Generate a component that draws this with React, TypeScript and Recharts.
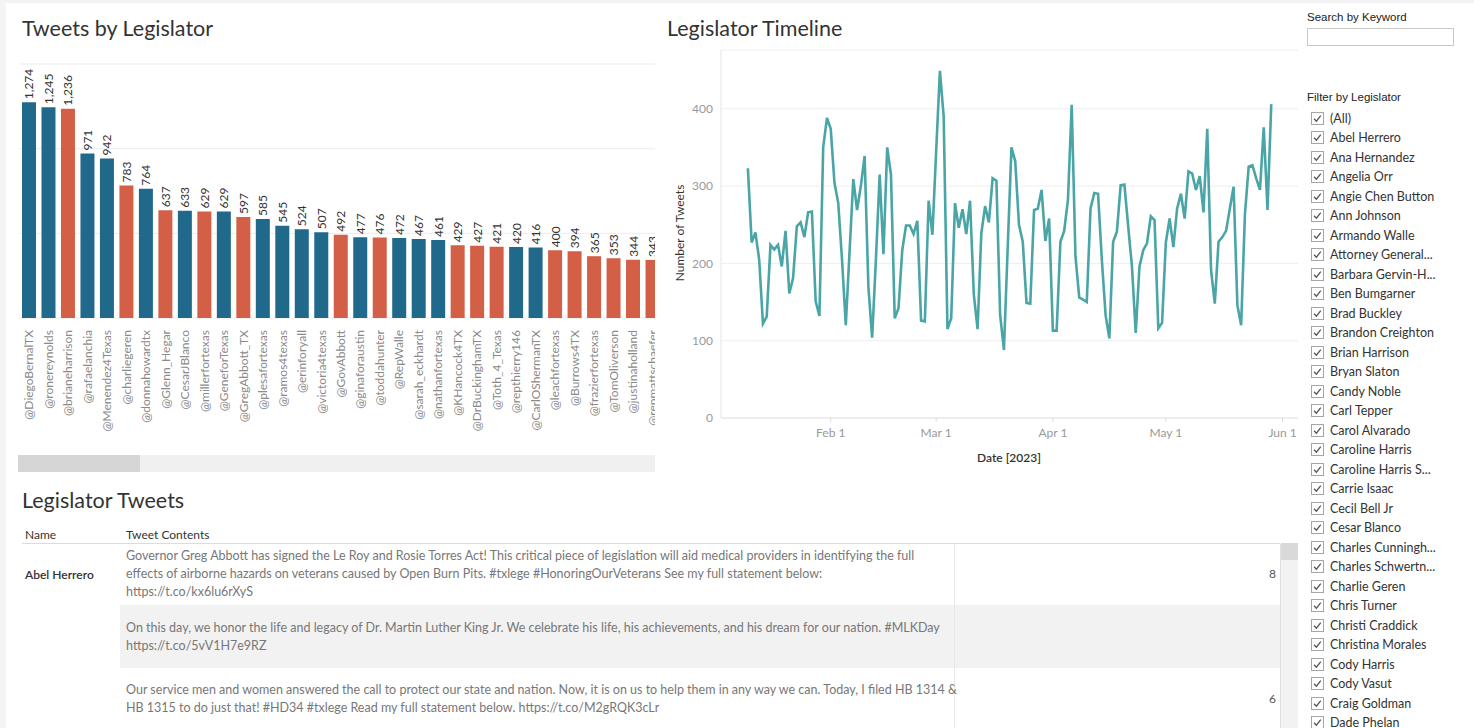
import React from "react"
import { BarChart, Bar, Cell, XAxis, YAxis, CartesianGrid, LabelList, LineChart, Line } from "recharts"

const handles = [
  "@DiegoBernalTX", "@ronereynolds", "@brianeharrison", "@rafaelanchia", "@Menendez4Texas", "@charliegeren",
  "@donnahowardtx", "@Glenn_Hegar", "@CesarJBlanco", "@millerfortexas", "@GeneforTexas", "@GregAbbott_TX",
  "@plesafortexas", "@ramos4texas", "@erinforyall", "@victoria4texas", "@GovAbbott", "@ginaforaustin",
  "@toddahunter", "@RepWalle", "@sarah_eckhardt", "@nathanfortexas", "@KHancock4TX", "@DrBuckinghamTX",
  "@Toth_4_Texas", "@repthierry146", "@CarlOShermanTX", "@leachfortexas", "@Burrows4TX", "@frazierfortexas",
  "@TomOliverson", "@justinaholland", "@repmattschaefer",
]
const tweetCounts = [
  1274, 1245, 1236, 971, 942, 783, 764, 637, 633, 629, 629, 597, 585, 545, 524, 507, 492, 477,
  476, 472, 467, 461, 429, 427, 421, 420, 416, 400, 394, 365, 353, 344, 343,
]
const parties = [
  "D", "D", "R", "D", "D", "R", "D", "R", "D", "R", "D", "R", "D", "D", "D", "D", "R", "D",
  "R", "D", "D", "D", "R", "R", "R", "D", "D", "R", "R", "R", "R", "R", "R",
]

// daily tweet totals, 2023-01-10 .. 2023-05-29
const firstDay = 9 // days after Jan 1
const dailyTweets = [
  323, 227, 240, 205, 122, 131, 224, 218, 224, 196, 242, 161, 181, 248, 253, 234, 266, 267, 151, 132,
  350, 388, 374, 304, 278, 205, 120, 215, 309, 269, 300, 339, 170, 104, 205, 315, 212, 350, 315, 129,
  142, 217, 249, 249, 238, 255, 126, 125, 281, 237, 345, 449, 390, 115, 129, 278, 246, 270, 238, 281,
  160, 115, 239, 274, 253, 310, 307, 133, 88, 220, 350, 332, 250, 228, 149, 148, 269, 271, 295, 229,
  258, 113, 113, 228, 242, 282, 405, 209, 156, 153, 150, 271, 291, 290, 205, 133, 103, 228, 241, 301,
  302, 248, 196, 110, 196, 217, 226, 261, 256, 116, 123, 227, 258, 221, 271, 290, 258, 319, 316, 295,
  313, 266, 374, 192, 148, 228, 234, 242, 271, 299, 146, 120, 263, 325, 327, 310, 295, 376, 269, 406,
]
const dateTickDays = [31, 59, 90, 120, 151]
const dateTickLabels = ["Feb 1", "Mar 1", "Apr 1", "May 1", "Jun 1"]

const legislators = [
  "(All)", "Abel Herrero", "Ana Hernandez", "Angelia Orr", "Angie Chen Button", "Ann Johnson", "Armando Walle",
  "Attorney General...", "Barbara Gervin-H...", "Ben Bumgarner", "Brad Buckley", "Brandon Creighton",
  "Brian Harrison", "Bryan Slaton", "Candy Noble", "Carl Tepper", "Carol Alvarado", "Caroline Harris",
  "Caroline Harris S...", "Carrie Isaac", "Cecil Bell Jr", "Cesar Blanco", "Charles Cunningh...",
  "Charles Schwertn...", "Charlie Geren", "Chris Turner", "Christi Craddick", "Christina Morales",
  "Cody Harris", "Cody Vasut", "Craig Goldman", "Dade Phelan",
]

const tweetRows = [
  [
    "Governor Greg Abbott has signed the Le Roy and Rosie Torres Act! This critical piece of legislation will aid medical providers in identifying the full",
    "effects of airborne hazards on veterans caused by Open Burn Pits. #txlege #HonoringOurVeterans See my full statement below:",
    "https://t.co/kx6lu6rXyS",
  ],
  [
    "On this day, we honor the life and legacy of Dr. Martin Luther King Jr. We celebrate his life, his achievements, and his dream for our nation. #MLKDay",
    "https://t.co/5vV1H7e9RZ",
  ],
  [
    "Our service men and women answered the call to protect our state and nation. Now, it is on us to help them in any way we can. Today, I filed HB 1314 &",
    "HB 1315 to do just that! #HD34 #txlege Read my full statement below. https://t.co/M2gRQK3cLr",
  ],
]
const rowCounts = ["8", "", "6"]

const BLUE = "#21698b"
const RED = "#d35f47"
const TEAL = "#4aa5a6"
const FONT = "Lato, 'Open Sans', sans-serif"

const barData = handles.map((h, i) => ({ handle: h, count: tweetCounts[i], party: parties[i] }))
const lineData = dailyTweets.map((v, i) => ({ day: firstDay + i, tweets: v }))

function HandleTick(props: any) {
  const { x, y, payload } = props
  const ty = y + 4
  return (
    <text x={x} y={ty} transform={`rotate(-90 ${x} ${ty})`} textAnchor="end" dominantBaseline="central"
      fill="#8a8a8a" fontSize={12} fontFamily={FONT}>
      {payload.value}
    </text>
  )
}

function CountLabel(props: any) {
  const { x, y, width, value } = props
  const cx = x + width / 2
  const ty = y - 3
  return (
    <text x={cx} y={ty} transform={`rotate(-90 ${cx} ${ty})`} textAnchor="start" dominantBaseline="central"
      fill="#333" fontSize={12} fontFamily={FONT}>
      {Number(value).toLocaleString("en-US")}
    </text>
  )
}

function Check() {
  return (
    <svg width={13} height={13} style={{ position: "absolute", left: 0, top: 3 }}>
      <rect x={0.5} y={0.5} width={12} height={12} fill="#fff" stroke="#a6a6a6" />
      <polyline points="3,6.8 5.4,9.2 9.8,3.6" fill="none" stroke="#555" strokeWidth={1.3} />
    </svg>
  )
}

const abs = (left: number, top: number, extra: React.CSSProperties = {}): React.CSSProperties => ({
  position: "absolute", left, top, ...extra,
})

export default function App() {
  return (
    <div style={{ position: "absolute", left: 0, top: 0, width: 1474, height: 728, overflow: "hidden", background: "#fff", fontFamily: FONT }}>
      <div style={abs(0, 0, { width: 1474, height: 3, background: "#f2f2f2" })} />
      <div style={abs(0, 0, { width: 6, height: 728, background: "#f4f4f4" })} />

      <div style={abs(22, 15, { fontSize: 21.5, color: "#333", whiteSpace: "nowrap" })}>Tweets by Legislator</div>
      <div style={abs(667, 15, { fontSize: 21.5, color: "#333", whiteSpace: "nowrap" })}>Legislator Timeline</div>
      <div style={abs(22, 487, { fontSize: 21.5, color: "#333", whiteSpace: "nowrap" })}>Legislator Tweets</div>

      {/* bar chart, clipped like a scrolled view */}
      <div style={abs(19, 60, { width: 636, height: 380, overflow: "hidden" })}>
        <BarChart width={643} height={380} data={barData} margin={{ top: 4, right: 0, bottom: 0, left: 0 }}>
          <CartesianGrid vertical={false} stroke="#ececec" />
          <XAxis dataKey="handle" interval={0} tickLine={false} axisLine={false} height={122} tick={<HandleTick />} />
          <YAxis hide domain={[0, 1500]} ticks={[0, 500, 1000, 1500]} />
          <Bar dataKey="count" barSize={14} isAnimationActive={false}>
            {barData.map((d, i) => (
              <Cell key={i} fill={d.party === "R" ? RED : BLUE} />
            ))}
            <LabelList dataKey="count" content={<CountLabel />} />
          </Bar>
        </BarChart>
      </div>
      <div style={abs(18, 455, { width: 637, height: 17, background: "#f0f0f0" })} />
      <div style={abs(18, 455, { width: 122, height: 17, background: "#d6d6d6" })} />

      {/* line chart */}
      <div style={abs(660, 40)}>
        <LineChart width={650} height={430} data={lineData} margin={{ top: 10, right: 12, bottom: 22, left: 0 }}>
          <CartesianGrid vertical={false} stroke="#eeeeee" />
          <XAxis type="number" dataKey="day" domain={[1.86, 155.1]} ticks={dateTickDays} allowDataOverflow
            tickFormatter={(v: number) => dateTickLabels[dateTickDays.indexOf(v)]}
            axisLine={{ stroke: "#e4e4e4" }} tickLine={{ stroke: "#dcdcdc" }} tickSize={4} tickMargin={6} height={30}
            tick={{ fill: "#999", fontSize: 12, fontFamily: FONT }} />
          <YAxis domain={[0, 476]} ticks={[0, 100, 200, 300, 400]} width={61} allowDataOverflow
            axisLine={{ stroke: "#e4e4e4" }} tickLine={false} tickSize={0} tickMargin={8}
            tick={{ fill: "#999", fontSize: 12, fontFamily: FONT }} />
          <Line type="linear" dataKey="tweets" stroke={TEAL} strokeWidth={2.6} dot={false} isAnimationActive={false} />
        </LineChart>
      </div>
      <div style={abs(679, 233, { transform: "translate(-50%, -50%) rotate(-90deg)", fontSize: 12, color: "#333", whiteSpace: "nowrap" })}>
        Number of Tweets
      </div>
      <div style={abs(977, 450, { fontSize: 12, color: "#333", fontWeight: 600, whiteSpace: "nowrap" })}>Date [2023]</div>

      {/* filters */}
      <div style={abs(1307, 11, { fontSize: 11.5, color: "#222", fontFamily: "'Liberation Sans', Arial, sans-serif", whiteSpace: "nowrap" })}>
        Search by Keyword
      </div>
      <div style={abs(1307, 28, { width: 145, height: 16, border: "1px solid #c8c8c8", background: "#fff" })} />
      <div style={abs(1307, 91, { fontSize: 11.5, color: "#222", fontFamily: "'Liberation Sans', Arial, sans-serif", whiteSpace: "nowrap" })}>
        Filter by Legislator
      </div>
      {legislators.map((name, i) => (
        <div key={name} style={abs(1311, 108.5 + i * 19.5, { height: 19.5, width: 160, whiteSpace: "nowrap" })}>
          <Check />
          <span style={{ position: "absolute", left: 19, top: 2, fontSize: 12.5, color: "#333" }}>{name}</span>
        </div>
      ))}

      {/* tweets table */}
      <div style={abs(25, 527, { fontSize: 12, color: "#333", whiteSpace: "nowrap" })}>Name</div>
      <div style={abs(126, 527, { fontSize: 12, color: "#333", whiteSpace: "nowrap" })}>Tweet Contents</div>
      <div style={abs(22, 543, { width: 1258, height: 1, background: "#dcdcdc" })} />
      <div style={abs(120, 605, { width: 1160, height: 63, background: "#f2f2f2" })} />
      <div style={abs(954, 544, { width: 1, height: 184, background: "#e8e8e8" })} />
      <div style={abs(1280, 544, { width: 1, height: 184, background: "#e0e0e0" })} />
      <div style={abs(1281, 543, { width: 17, height: 185, background: "#f2f2f2" })} />
      <div style={abs(1281, 543, { width: 17, height: 17, background: "#d9d9d9" })} />
      <div style={abs(25, 567, { fontSize: 12, color: "#333", fontWeight: 600, whiteSpace: "nowrap" })}>Abel Herrero</div>
      {tweetRows.map((lines, r) => {
        const rowTop = [543, 605, 668][r]
        const rowH = [62, 63, 62][r]
        const textTop = rowTop + (rowH - lines.length * 18) / 2
        return (
          <React.Fragment key={r}>
            {lines.map((ln, k) => (
              <div key={k} style={abs(126, textTop + k * 18, { fontSize: 12.5, lineHeight: "18px", color: "#777", whiteSpace: "nowrap" })}>
                {ln}
              </div>
            ))}
            {rowCounts[r] && (
              <div style={abs(1240, rowTop + rowH / 2 - 9, { width: 36, textAlign: "right", fontSize: 12, lineHeight: "18px", color: "#555" })}>
                {rowCounts[r]}
              </div>
            )}
          </React.Fragment>
        )
      })}
    </div>
  )
}
